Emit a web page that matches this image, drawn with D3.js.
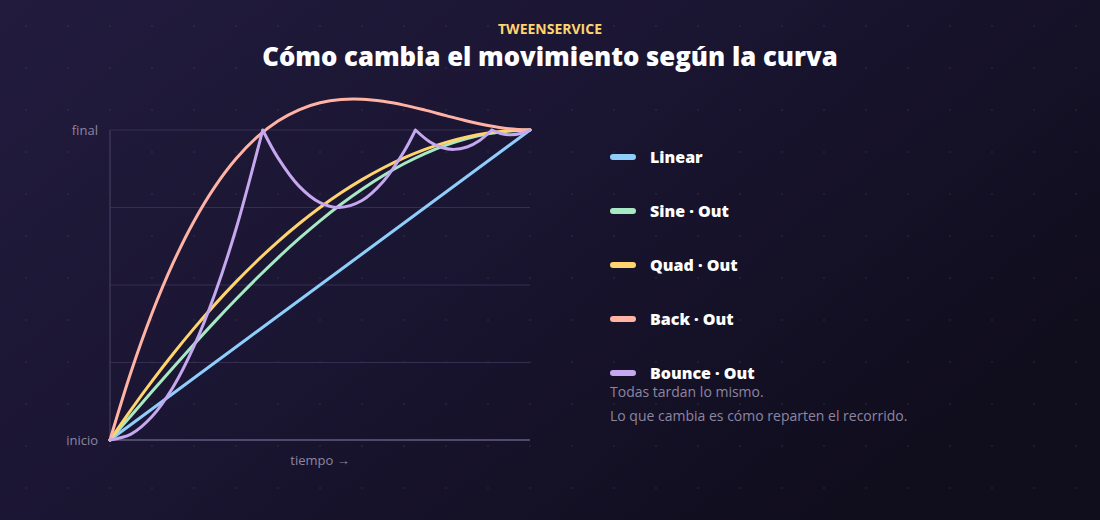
<!DOCTYPE html>
<html lang="es">
<head>
<meta charset="utf-8">
<title>TweenService</title>
<script src="https://cdn.jsdelivr.net/npm/d3@7"></script>
<style>
  html, body { margin: 0; padding: 0; background: #161228; }
  svg { display: block; }
</style>
</head>
<body>
<div id="chart"></div>
<script>
// tiempo normalizado (0 = inicio, 1 = final)
const tiempo = [0, 0.05, 0.10, 0.15, 0.20, 0.25, 0.30, 0.35, 0.40, 0.45, 0.50,
                0.55, 0.60, 0.65, 0.70, 0.75, 0.80, 0.85, 0.90, 0.95, 1];

const linear = [0, 0.05, 0.10, 0.15, 0.20, 0.25, 0.30, 0.35, 0.40, 0.45, 0.50,
                0.55, 0.60, 0.65, 0.70, 0.75, 0.80, 0.85, 0.90, 0.95, 1];
const sineOut = [0, 0.0785, 0.1564, 0.2334, 0.3090, 0.3827, 0.4540, 0.5225, 0.5878, 0.6494, 0.7071,
                 0.7604, 0.8090, 0.8526, 0.8910, 0.9239, 0.9511, 0.9724, 0.9877, 0.9969, 1];
const quadOut = [0, 0.0975, 0.19, 0.2775, 0.36, 0.4375, 0.51, 0.5775, 0.64, 0.6975, 0.75,
                 0.7975, 0.84, 0.8775, 0.91, 0.9375, 0.96, 0.9775, 0.99, 0.9975, 1];
const backOut = [0, 0.2194, 0.4088, 0.5703, 0.7058, 0.8174, 0.9071, 0.9770, 1.0290, 1.0653, 1.0877,
                 1.0984, 1.0994, 1.0926, 1.0802, 1.0641, 1.0465, 1.0292, 1.0143, 1.0040, 1];

// bounce lleva su propio muestreo porque tiene picos
const tiempoBounce = [0, 0.05, 0.10, 0.15, 0.20, 0.25, 0.30, 0.3636,
                      0.40, 0.45, 0.50, 0.5455, 0.60, 0.65, 0.70, 0.7273,
                      0.76, 0.79, 0.8182, 0.85, 0.88, 0.9091,
                      0.93, 0.9545, 0.98, 1];
const bounceOut = [0, 0.0189, 0.0756, 0.1702, 0.3025, 0.4727, 0.6806, 1,
                   0.9100, 0.8189, 0.7656, 0.75, 0.7725, 0.8327, 0.9306, 1,
                   0.9631, 0.9435, 0.9375, 0.9452, 0.9664, 1,
                   0.9889, 0.9844, 0.9893, 1];
const rebotes = [0.3636, 0.7273, 0.9091]; // donde toca el final

const nombres = ["Linear", "Sine · Out", "Quad · Out", "Back · Out", "Bounce · Out"];
const colores = ["#8fcdfb", "#a6e9c3", "#ffd46e", "#ffb3a4", "#c5a8ef"];
const ticksY = [0, 0.25, 0.5, 0.75, 1];
const etiquetasY = {0: "inicio", 1: "final"};

const W = 1100, H = 520;

const svg = d3.select("#chart").append("svg")
    .attr("width", W)
    .attr("height", H);

// fondo
const defs = svg.append("defs");
const grad = defs.append("linearGradient")
    .attr("id", "bg")
    .attr("x1", "0").attr("y1", "0")
    .attr("x2", "1").attr("y2", "0.6");
grad.append("stop").attr("offset", "0").attr("stop-color", "#221b3e");
grad.append("stop").attr("offset", "0.5").attr("stop-color", "#1a1531");
grad.append("stop").attr("offset", "1").attr("stop-color", "#100d1d");
svg.append("rect").attr("width", W).attr("height", H).attr("fill", "url(#bg)");

// puntitos de fondo
const dots = [];
for (let x = 26; x < W; x += 42) {
  for (let y = 26; y < H; y += 42) dots.push([x, y]);
}
svg.append("g").selectAll("circle")
  .data(dots)
  .enter().append("circle")
    .attr("cx", d => d[0])
    .attr("cy", d => d[1])
    .attr("r", 1.3)
    .attr("fill", "rgba(255,255,255,0.05)");

// titulos
svg.append("text")
    .attr("x", W / 2).attr("y", 34)
    .attr("text-anchor", "middle")
    .attr("font-family", "'Open Sans', sans-serif")
    .attr("font-weight", 700)
    .attr("font-size", 14)
    .attr("fill", "#ffd46e")
    .text("TWEENSERVICE");
svg.append("text")
    .attr("x", W / 2).attr("y", 66)
    .attr("text-anchor", "middle")
    .attr("font-family", "'Open Sans', sans-serif")
    .attr("font-weight", 800)
    .attr("font-size", 25.7)
    .attr("fill", "#ffffff")
    .text("Cómo cambia el movimiento según la curva");

// escalas
const posX = d3.scaleLinear().domain([0, 1]).range([110, 530]);
const posY = d3.scaleLinear().domain([0, 1]).range([440, 130]);

const g = svg.append("g");

// rejilla
g.selectAll(".grid")
  .data(ticksY)
  .enter().append("line")
    .attr("class", "grid")
    .attr("x1", posX(0)).attr("x2", posX(1))
    .attr("y1", d => posY(d)).attr("y2", d => posY(d))
    .attr("stroke", d => d === 0 ? "#4f496b" : "#352e52")
    .attr("stroke-width", d => d === 0 ? 2 : 1);
g.append("line")
    .attr("x1", posX(0)).attr("x2", posX(0))
    .attr("y1", posY(0)).attr("y2", posY(1))
    .attr("stroke", "#3c3559")
    .attr("stroke-width", 1.5);

// etiquetas del eje
g.selectAll(".ylab")
  .data([0, 1])
  .enter().append("text")
    .attr("class", "ylab")
    .attr("x", posX(0) - 12)
    .attr("y", d => posY(d))
    .attr("dy", "0.35em")
    .attr("text-anchor", "end")
    .attr("font-family", "'Open Sans', sans-serif")
    .attr("font-size", 13)
    .attr("fill", "#8c86a2")
    .text(d => etiquetasY[d]);
g.append("text")
    .attr("x", posX(0.5)).attr("y", posY(0) + 25)
    .attr("text-anchor", "middle")
    .attr("font-family", "'Open Sans', sans-serif")
    .attr("font-size", 13)
    .attr("fill", "#8c86a2")
    .text("tiempo →");

// curvas
const line = d3.line()
    .x(d => posX(d[0]))
    .y(d => posY(d[1]))
    .curve(d3.curveCatmullRom.alpha(0.5));

const series = [linear, sineOut, quadOut, backOut];
series.forEach(function(vals, i) {
  g.append("path")
    .datum(tiempo.map((t, k) => [t, vals[k]]))
    .attr("d", line)
    .attr("fill", "none")
    .attr("stroke", colores[i])
    .attr("stroke-width", 3)
    .attr("stroke-linecap", "round")
    .attr("stroke-linejoin", "round");
});

// bounce: un tramo suave por cada bote, con pico en los rebotes
const pts = tiempoBounce.map((t, k) => [t, bounceOut[k]]);
let tramos = [], actual = [];
pts.forEach(function(p) {
  actual.push(p);
  if (rebotes.indexOf(p[0]) >= 0) { tramos.push(actual); actual = [p]; }
});
tramos.push(actual);
g.append("path")
    .attr("d", tramos.map(tr => line(tr)).join(""))
    .attr("fill", "none")
    .attr("stroke", colores[4])
    .attr("stroke-width", 3)
    .attr("stroke-linecap", "round")
    .attr("stroke-linejoin", "round");

// leyenda
const leg = svg.append("g").attr("transform", "translate(610,157)");
const item = leg.selectAll(".item")
  .data(nombres)
  .enter().append("g")
    .attr("class", "item")
    .attr("transform", (d, i) => "translate(0," + i * 54 + ")");
item.append("rect")
    .attr("x", 0).attr("y", -3)
    .attr("width", 26).attr("height", 6)
    .attr("rx", 3)
    .attr("fill", (d, i) => colores[i]);
item.append("text")
    .attr("x", 40).attr("y", 0)
    .attr("dy", "0.35em")
    .attr("font-family", "'Open Sans', sans-serif")
    .attr("font-weight", 800)
    .attr("font-size", 16)
    .attr("fill", "#ffffff")
    .text(d => d);

// nota
const notas = ["Todas tardan lo mismo.", "Lo que cambia es cómo reparten el recorrido."];
svg.selectAll(".nota")
  .data(notas)
  .enter().append("text")
    .attr("class", "nota")
    .attr("x", 610)
    .attr("y", (d, i) => 392 + i * 24)
    .attr("dy", "0.35em")
    .attr("font-family", "'Open Sans', sans-serif")
    .attr("font-size", 14)
    .attr("fill", "#8c86a2")
    .text(d => d);
</script>
</body>
</html>
